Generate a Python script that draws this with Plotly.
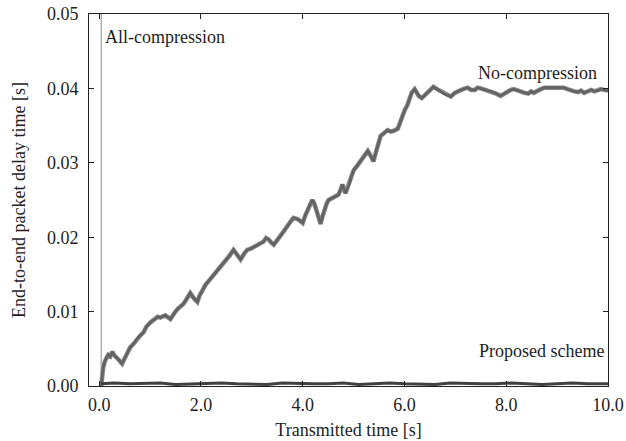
import plotly.graph_objects as go

# No-compression delay (s) vs transmitted time (s)
nc_t = [0.04, 0.06, 0.08, 0.11, 0.14, 0.18, 0.22, 0.26, 0.30, 0.35, 0.40, 0.45, 0.49, 0.53,
        0.57, 0.61, 0.68, 0.75, 0.81, 0.87, 0.93, 1.00, 1.05, 1.10, 1.15, 1.20, 1.30, 1.40,
        1.45, 1.50, 1.55, 1.59, 1.65, 1.71, 1.75, 1.79, 1.86, 1.93, 1.97, 2.01, 2.05, 2.09,
        2.15, 2.20, 2.26, 2.32, 2.40, 2.48, 2.56, 2.64, 2.70, 2.78, 2.85, 2.91, 2.99, 3.07,
        3.15, 3.23, 3.28, 3.33, 3.38, 3.43, 3.50, 3.56, 3.63, 3.70, 3.76, 3.82, 3.91, 4.00,
        4.05, 4.09, 4.14, 4.19, 4.23, 4.27, 4.31, 4.35, 4.39, 4.43, 4.47, 4.51, 4.56, 4.61,
        4.66, 4.70, 4.74, 4.78, 4.84, 4.88, 4.92, 4.96, 5.00, 5.07, 5.14, 5.21, 5.28, 5.34,
        5.39, 5.43, 5.47, 5.53, 5.60, 5.67, 5.73, 5.79, 5.87, 5.93, 6.00, 6.06, 6.14, 6.20,
        6.28, 6.34, 6.40, 6.44, 6.50, 6.57, 6.64, 6.71, 6.80, 6.91, 6.99, 7.07, 7.15, 7.24,
        7.31, 7.38, 7.44, 7.50, 7.60, 7.70, 7.80, 7.89, 7.96, 8.03, 8.09, 8.15, 8.22, 8.29,
        8.36, 8.43, 8.49, 8.54, 8.61, 8.68, 8.75, 8.82, 8.98, 9.13, 9.20, 9.27, 9.34, 9.41,
        9.47, 9.53, 9.60, 9.67, 9.73, 9.80, 9.86, 9.92, 10.0]
nc_d = [0.0000, 0.0016, 0.0025, 0.0033, 0.0038, 0.0042, 0.0040, 0.0046, 0.0041, 0.0038,
        0.0034, 0.0030, 0.0036, 0.0042, 0.0047, 0.0052, 0.0057, 0.0064, 0.0068, 0.0072,
        0.0080, 0.0085, 0.0088, 0.0090, 0.0093, 0.0092, 0.0095, 0.0090, 0.0096, 0.0100,
        0.0104, 0.0106, 0.0110, 0.0116, 0.0121, 0.0125, 0.0118, 0.0113, 0.0121, 0.0126,
        0.0132, 0.0136, 0.0141, 0.0145, 0.0150, 0.0156, 0.0162, 0.0168, 0.0175, 0.0183,
        0.0177, 0.0170, 0.0178, 0.0183, 0.0185, 0.0188, 0.0191, 0.0194, 0.0199, 0.0197,
        0.0193, 0.0190, 0.0196, 0.0201, 0.0208, 0.0215, 0.0221, 0.0226, 0.0224, 0.0219,
        0.0229, 0.0236, 0.0244, 0.0250, 0.0245, 0.0236, 0.0226, 0.0218, 0.0228, 0.0238,
        0.0245, 0.0250, 0.0252, 0.0254, 0.0256, 0.0257, 0.0263, 0.0271, 0.0259, 0.0266,
        0.0272, 0.0282, 0.0290, 0.0296, 0.0302, 0.0309, 0.0316, 0.0309, 0.0302, 0.0312,
        0.0322, 0.0336, 0.0340, 0.0344, 0.0342, 0.0343, 0.0346, 0.0358, 0.0370, 0.0378,
        0.0394, 0.0399, 0.0390, 0.0387, 0.0391, 0.0394, 0.0398, 0.0402, 0.0399, 0.0396,
        0.0392, 0.0389, 0.0394, 0.0397, 0.0399, 0.0401, 0.0398, 0.0398, 0.0401, 0.0400,
        0.0398, 0.0396, 0.0393, 0.0390, 0.0393, 0.0396, 0.0398, 0.0399, 0.0397, 0.0395,
        0.0394, 0.0393, 0.0396, 0.0394, 0.0397, 0.0399, 0.0401, 0.0401, 0.0401, 0.0401,
        0.0399, 0.0397, 0.0396, 0.0395, 0.0397, 0.0394, 0.0396, 0.0398, 0.0396, 0.0397,
        0.0399, 0.0398, 0.0397]

# Proposed scheme delay (s)
ps_t = [0.04, 0.3, 0.6, 0.9, 1.2, 1.5, 1.8, 2.1, 2.4, 2.7, 3.0, 3.3, 3.6, 3.9, 4.2, 4.5,
        4.8, 5.1, 5.4, 5.7, 6.0, 6.3, 6.6, 6.9, 7.2, 7.5, 7.8, 8.1, 8.4, 8.7, 9.0, 9.3,
        9.6, 9.9, 10.0]
ps_d = [0.0003, 0.0004, 0.0003, 0.0003, 0.0004, 0.0002, 0.0003, 0.0003, 0.0004, 0.0003,
        0.0003, 0.0002, 0.0004, 0.0003, 0.0003, 0.0003, 0.0004, 0.0002, 0.0003, 0.0004,
        0.0003, 0.0003, 0.0002, 0.0004, 0.0003, 0.0003, 0.0003, 0.0004, 0.0003, 0.0002,
        0.0003, 0.0004, 0.0003, 0.0003, 0.0003]

# All-compression delay (s): jumps off the scale immediately
ac_t = [0.04, 0.04]
ac_d = [0.0, 0.06]

x_ticks = [0, 2, 4, 6, 8, 10]
x_labels = ["0.0", "2.0", "4.0", "6.0", "8.0", "10.0"]
y_ticks = [0.0, 0.01, 0.02, 0.03, 0.04, 0.05]
y_labels = ["0.00", "0.01", "0.02", "0.03", "0.04", "0.05"]

FONT = "Liberation Serif"
FS = 18
TXT = "#1e1e1e"

fig = go.Figure()
fig.add_trace(go.Scatter(x=ac_t, y=ac_d, mode="lines",
                         line=dict(color="#a8a8a8", width=1.3), showlegend=False))
fig.add_trace(go.Scatter(x=nc_t, y=nc_d, mode="lines",
                         line=dict(color="#8a8a8a", width=4.5), showlegend=False))
fig.add_trace(go.Scatter(x=nc_t, y=nc_d, mode="lines",
                         line=dict(color="#626264", width=2.6), showlegend=False))
fig.add_trace(go.Scatter(x=ps_t, y=ps_d, mode="lines",
                         line=dict(color="#404040", width=3), showlegend=False))

ann_font = dict(family=FONT, size=FS, color=TXT)
fig.add_annotation(x=0.08, y=0.0469, text="All-compression", showarrow=False,
                   xanchor="left", yanchor="middle", font=ann_font)
fig.add_annotation(x=9.82, y=0.0421, text="No-compression", showarrow=False,
                   xanchor="right", yanchor="middle", font=ann_font)
fig.add_annotation(x=9.96, y=0.0047, text="Proposed scheme", showarrow=False,
                   xanchor="right", yanchor="middle", font=ann_font)

axis_common = dict(showline=True, linecolor="#222", linewidth=1, mirror="ticks",
                   ticks="inside", ticklen=5, tickcolor="#222", showgrid=False,
                   zeroline=False, automargin=False,
                   tickfont=dict(family=FONT, size=FS, color=TXT))

fig.update_layout(
    width=626, height=441,
    margin=dict(l=89, r=18, t=14, b=55),
    plot_bgcolor="white", paper_bgcolor="white",
    font=dict(family=FONT, size=FS, color=TXT),
    xaxis=dict(range=[-0.2, 10.0], tickvals=x_ticks, ticktext=x_labels,
               ticklabelstandoff=2,
               title=dict(text="Transmitted time [s]", standoff=9,
                          font=dict(family=FONT, size=FS, color=TXT)),
               **axis_common),
    yaxis=dict(range=[0, 0.05], tickvals=y_ticks, ticktext=y_labels,
               ticklabelstandoff=6,
               title=dict(text="End-to-end packet delay time [s]", standoff=16,
                          font=dict(family=FONT, size=FS, color=TXT)),
               **axis_common),
)

fig.write_html("out.html")
